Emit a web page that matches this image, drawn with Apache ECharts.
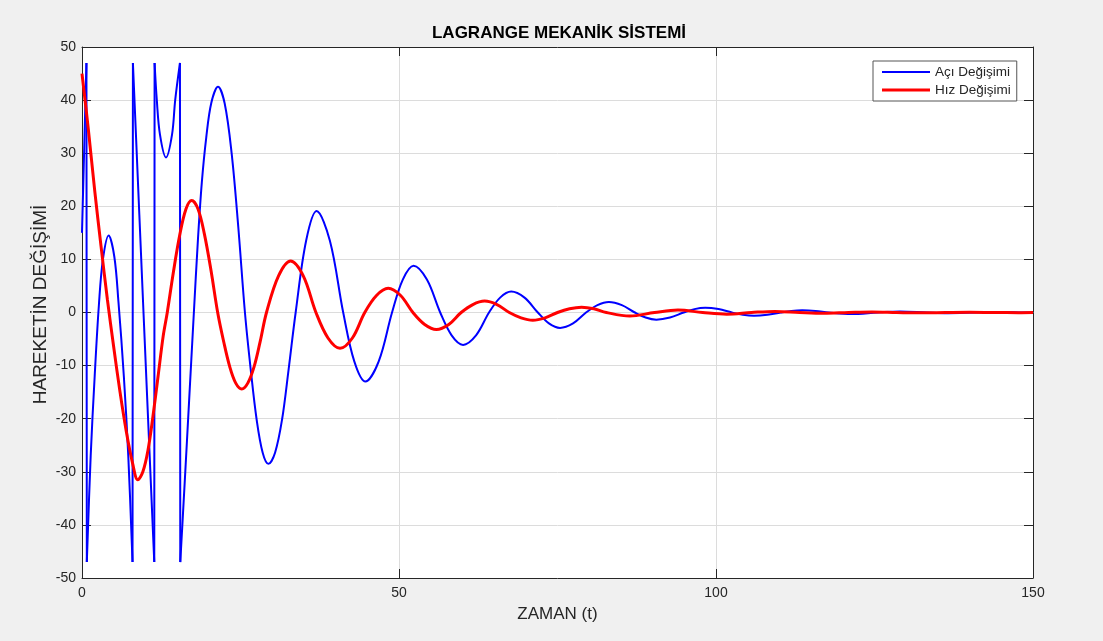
<!DOCTYPE html>
<html><head><meta charset="utf-8">
<script src="https://cdn.jsdelivr.net/npm/echarts@6/dist/echarts.min.js"></script>
<style>html,body{margin:0;padding:0;background:#f0f0f0;}#c{width:1103px;height:641px;}</style>
</head><body><div id="c"></div>
<script>
// ---- data ----
const titleText = 'LAGRANGE MEKANİK SİSTEMİ';
const xName = 'ZAMAN (t)';
const yName = 'HAREKETİN DEĞİŞİMİ';
const seriesNames = ['Açı Değişimi', 'Hız Değişimi'];
const xTicks = [0, 50, 100, 150];
const yTicks = [-50, -40, -30, -20, -10, 0, 10, 20, 30, 40, 50];

// angle (wrapped); null marks a wrap break
const angle = [
  [0,15],[0.35,31],[0.7,47], [0.72,null],
  [0.76,-47],[1.37,-27],[2.0,-12],[2.67,1.5],[3.3,10],[4.2,14.5],[5.1,10.5],[5.75,2],[6.6,-12],[7.3,-27],[7.97,-47], [8.0,null],
  [8.03,47],[9.7,0],[11.4,-47], [11.42,null],
  [11.45,47],[11.8,40],[12.3,33.5],[13.25,29.2],[14.2,33.5],[14.7,40],[15.45,47], [15.47,null],
  [15.5,-47],[16.2,-32],[16.9,-16.5],[17.6,-1],[18.3,14],[18.9,24.5],[19.6,33],[20.4,39.5],[21.45,42.5],
  [22.5,39.4],[23.6,30.0],[24.65,16.1],[25.7,0],[26.6,-10.6],[27.55,-20.2],[28.5,-26.4],[29.4,-28.5],[30.45,-26.4],
  [31.55,-20.2],[32.6,-10.6],[33.7,0],[35.35,13.5],
  [37.0,19.1],[39.1,13.5],[41.2,0],[42.95,-9.2],[44.7,-13.0],[46.8,-9.2],[48.9,0],[50.6,6.2],[52.3,8.8],[54.4,6.2],[56.5,0],
  [58.3,-4.3],[60.1,-6.1],[62.15,-4.3],[64.2,0],[65.95,2.8],[67.7,3.95],[69.8,2.8],[71.9,0],[73.65,-2.05],[75.4,-2.9],
  [77.45,-2.05],[79.5,0],[81.3,1.4],[83.1,2.0],[85.15,1.4],[87.2,0],[88.9,-0.95],[90.6,-1.35],[92.75,-0.95],[94.9,0],
  [96.6,0.64],[98.3,0.9],[100.4,0.64],[102.5,0],[104.25,-0.44],[106,-0.62],[108.1,-0.44],[110.2,0],[111.9,0.3],[113.6,0.42],
  [115.7,0.3],[117.8,0],[121.3,-0.29],[125.5,0],[129,0.2],[133.2,0],[136.6,-0.13],[140.8,0],[144.2,0.09],[148.4,0],[150,-0.03]
];
// the wrap jumps of the angle curve
const angleWraps = [
  [0.7,47],[0.76,-47],[0.74,null],
  [7.97,-47],[8.03,47],[8.0,null],
  [11.4,-47],[11.45,47],[11.42,null],
  [15.45,47],[15.5,-47]
];
// velocity
const velocity = [
  [0,45],[1,34.5],[2,23],[3,12.5],[4,2.5],[5,-6.5],[6,-15],[7,-22.5],[8,-28.5],[8.8,-31.5],[9.6,-30],[10.4,-26],[11.2,-19.5],
  [12.0,-12],[12.8,-4.5],[13.45,0],[14.4,7.5],[15.4,14.5],[16.4,19.5],[17.3,21.1],[18.3,19.5],[19.3,14.8],[20.35,7.9],[21.4,0],
  [22.35,-5.5],[23.3,-10.2],[24.25,-13.3],[25.2,-14.4],[26.15,-13.3],[27.15,-10.2],[28.1,-5.5],[29.1,0],
  [31.0,6.9],[32.9,9.7],[34.9,6.9],[36.9,0],[38.8,-4.8],[40.7,-6.75],
  [42.65,-4.8],[44.6,0],[46.45,3.2],[48.3,4.55],[50.25,3.2],[52.2,0],[54.05,-2.25],[55.9,-3.2],[57.85,-2.25],[59.8,0],
  [61.65,1.5],[63.5,2.15],[65.45,1.5],[67.4,0],[69.25,-1.0],[71.1,-1.45],[73.05,-1.0],[75,0],[76.9,0.7],[78.8,1.0],[80.75,0.7],
  [82.7,0],[86.4,-0.67],[90.3,0],[94,0.46],[97.9,0],[101.7,-0.31],[105.6,0],[109.3,0.21],[113.2,0],[117,-0.14],[120.9,0],
  [124.6,0.1],[128.5,0],[132.3,-0.07],[136.2,0],[140,0.05],[143.9,0],[147.7,-0.03],[150,0]
];

const FONT = "'Liberation Sans', Arial, Helvetica, sans-serif";
const AX = '#262626';
const chart = echarts.init(document.getElementById('c'), null, {renderer: 'canvas'});
const xMin = xTicks[0], xMax = xTicks[xTicks.length - 1];
const yMin = yTicks[0], yMax = yTicks[yTicks.length - 1];
const baseX = {
  type: 'value', min: xMin, max: xMax, interval: xTicks[1] - xTicks[0],
  axisLine: {show: true, onZero: false, lineStyle: {color: AX, width: 1}},
  axisTick: {show: true, inside: true, length: 9, lineStyle: {color: AX}},
  splitLine: {show: true, lineStyle: {color: '#dcdcdc', width: 1}},
  axisLabel: {color: AX, fontSize: 14, fontFamily: FONT, margin: 8}
};
const baseY = {
  type: 'value', min: yMin, max: yMax, interval: yTicks[1] - yTicks[0],
  axisLine: {show: true, onZero: false, lineStyle: {color: AX, width: 1}},
  axisTick: {show: true, inside: true, length: 9, lineStyle: {color: AX}},
  splitLine: {show: true, lineStyle: {color: '#dcdcdc', width: 1}},
  axisLabel: {color: AX, fontSize: 14, fontFamily: FONT, margin: 6}
};
chart.setOption({
  backgroundColor: '#f0f0f0',
  animation: false,
  title: {
    text: titleText, left: 554, top: 20, textAlign: 'center',
    textStyle: {fontSize: 17, fontWeight: 'bold', color: '#000', fontFamily: FONT}
  },
  grid: {left: 82, right: 70, top: 47, bottom: 63, show: true, backgroundColor: '#ffffff', borderWidth: 0},
  legend: {
    orient: 'vertical', left: 873, top: 61,
    padding: [4, 6, 4, 9], itemGap: 4, itemWidth: 48, itemHeight: 14,
    backgroundColor: '#ffffff', borderColor: '#555555', borderWidth: 1, borderRadius: 0,
    textStyle: {fontSize: 13.5, color: AX, fontFamily: FONT},
    itemStyle: {borderWidth: 0},
    data: [
      {name: seriesNames[0], icon: 'path://M0,0h48v2h-48z'},
      {name: seriesNames[1], icon: 'path://M0,0h48v3h-48z'}
    ]
  },
  xAxis: [
    Object.assign({}, baseX, {position: 'bottom', name: xName, nameLocation: 'middle', nameGap: 28,
      nameMoveOverlap: false,
      nameTextStyle: {fontSize: 17, color: AX, fontFamily: FONT}}),
    Object.assign({}, baseX, {position: 'top', axisLabel: {show: false}, splitLine: {show: false}})
  ],
  yAxis: [
    Object.assign({}, baseY, {position: 'left', name: yName, nameLocation: 'middle', nameGap: 32, nameRotate: 90,
      nameMoveOverlap: false,
      nameTextStyle: {fontSize: 19, color: AX, fontFamily: FONT, padding: [0, 0, 0, 16]}}),
    Object.assign({}, baseY, {position: 'right', axisLabel: {show: false}, splitLine: {show: false}})
  ],
  series: [
    {name: seriesNames[0], type: 'line', data: angle, smooth: 0.35, symbol: 'none', connectNulls: false,
      lineStyle: {color: '#0000ff', width: 2}, itemStyle: {color: '#0000ff'}, z: 2},
    {name: seriesNames[0], type: 'line', data: angleWraps, smooth: false, symbol: 'none', connectNulls: false,
      lineStyle: {color: '#0000ff', width: 2}, itemStyle: {color: '#0000ff'}, z: 2},
    {name: seriesNames[1], type: 'line', data: velocity, smooth: 0.35, symbol: 'none',
      lineStyle: {color: '#ff0000', width: 3}, itemStyle: {color: '#ff0000'}, z: 3}
  ]
});
</script></body></html>
